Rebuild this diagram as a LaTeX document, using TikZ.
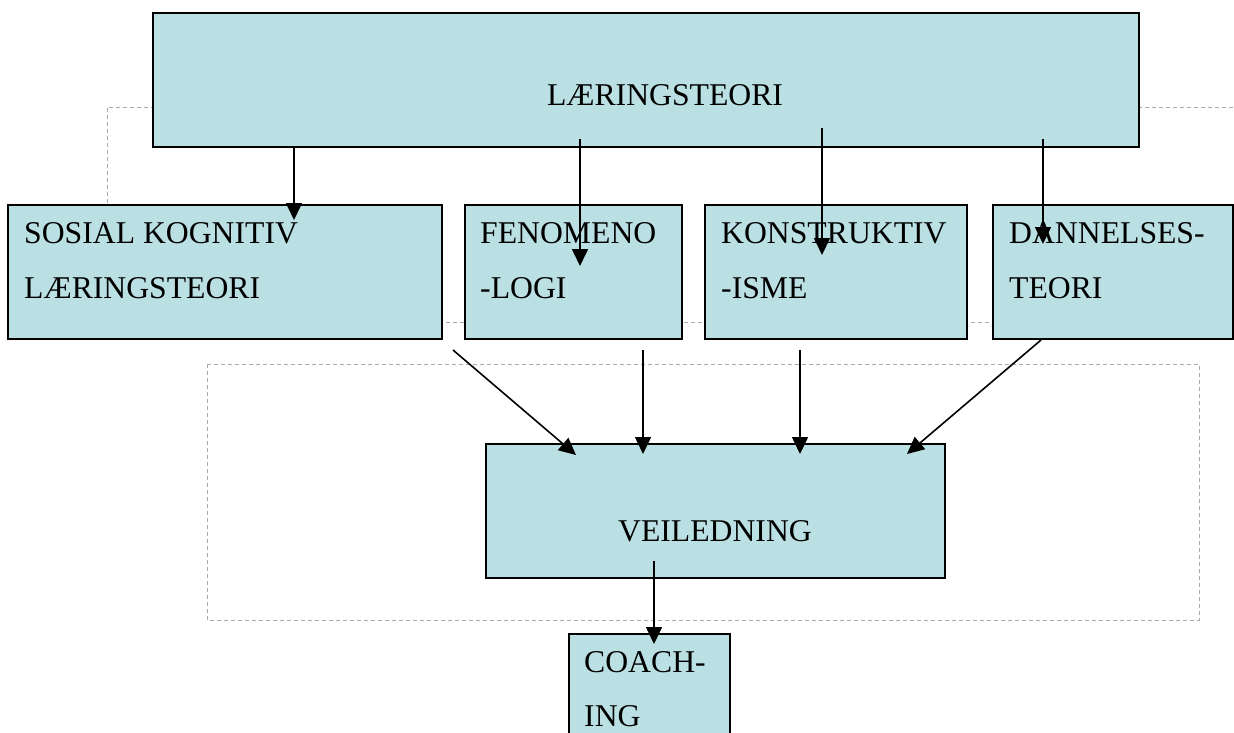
\documentclass[tikz,border=0pt]{standalone}
\usepackage{fontspec}
\setmainfont{Liberation Serif}
\usetikzlibrary{arrows.meta}
\definecolor{boxfill}{RGB}{187,224,227}
\definecolor{dashgray}{RGB}{170,170,170}
\tikzset{
  x=1pt, y=-1pt,
  boxstyle/.style={draw=black, line width=1.8pt, fill=boxfill},
  txt/.style={inner sep=0pt, anchor=base west, font=\fontsize{31.7}{31.7}\selectfont},
  ctxt/.style={inner sep=0pt, anchor=base, font=\fontsize{31.7}{31.7}\selectfont},
  arr/.style={draw=black, line width=1.6pt, -{Triangle[length=17pt,width=16pt]}},
  dashframe/.style={draw=dashgray, line width=0.9pt, dash pattern=on 4pt off 3pt}
}
\begin{document}
\begin{tikzpicture}
\useasboundingbox (0,0) rectangle (1234,733);
% dashed frames
\draw[dashframe] (1240,107) -- (107,107) -- (107,322) -- (1240,322);
\draw[dashframe] (207,364) rectangle (1199,620);
% boxes
\draw[boxstyle] (153,13) rectangle (1139,147);
\node[ctxt] (tl) at (665,106) {LÆRINGSTEORI};
\draw[boxstyle] (8,205) rectangle (442,339);
\node[txt] (t1a) at (24,243) {SOSIAL KOGNITIV};
\node[txt] (t1b) at (24,298) {LÆRINGSTEORI};
\draw[boxstyle] (465,205) rectangle (682,339);
\node[txt] (t2a) at (480,243) {FENOMENO};
\node[txt] (t2b) at (480,298) {-LOGI};
\draw[boxstyle] (705,205) rectangle (967,339);
\node[txt] (t3a) at (721,243) {KONSTRUKTIV};
\node[txt] (t3b) at (721,298) {-ISME};
\draw[boxstyle] (993,205) rectangle (1233,339);
\node[txt] (t4a) at (1009,243) {DANNELSES-};
\node[txt] (t4b) at (1009,298) {TEORI};
\draw[boxstyle] (486,444) rectangle (945,578);
\node[ctxt] (tv) at (715,541) {VEILEDNING};
\draw[boxstyle] (569,634) rectangle (730,745);
\node[txt] (tc1) at (584,672) {COACH-};
\node[txt] (tc2) at (584,726) {ING};
% connector end points
\coordinate (s1) at (294,147); \coordinate (e1) at (294,220);
\coordinate (s2) at (580,139); \coordinate (e2) at (580,266);
\coordinate (s3) at (822,128); \coordinate (e3) at (822,255);
\coordinate (s4) at (1043,139); \coordinate (e4) at (1043,244);
\coordinate (u1) at (453,350); \coordinate (v1) at (576,455);
\coordinate (u2) at (643,350); \coordinate (v2) at (643,454);
\coordinate (u3) at (800,350); \coordinate (v3) at (800,454);
\coordinate (u4) at (1041,340); \coordinate (v4) at (907,454);
\coordinate (w1) at (654,561); \coordinate (w2) at (654,644);
% connectors
\draw[arr] (s1) -- (e1);
\draw[arr] (s2) -- (e2);
\draw[arr] (s3) -- (e3);
\draw[arr] (s4) -- (e4);
\draw[arr] (u1) -- (v1);
\draw[arr] (u2) -- (v2);
\draw[arr] (u3) -- (v3);
\draw[arr] (u4) -- (v4);
\draw[arr] (w1) -- (w2);
\end{tikzpicture}
\end{document}
